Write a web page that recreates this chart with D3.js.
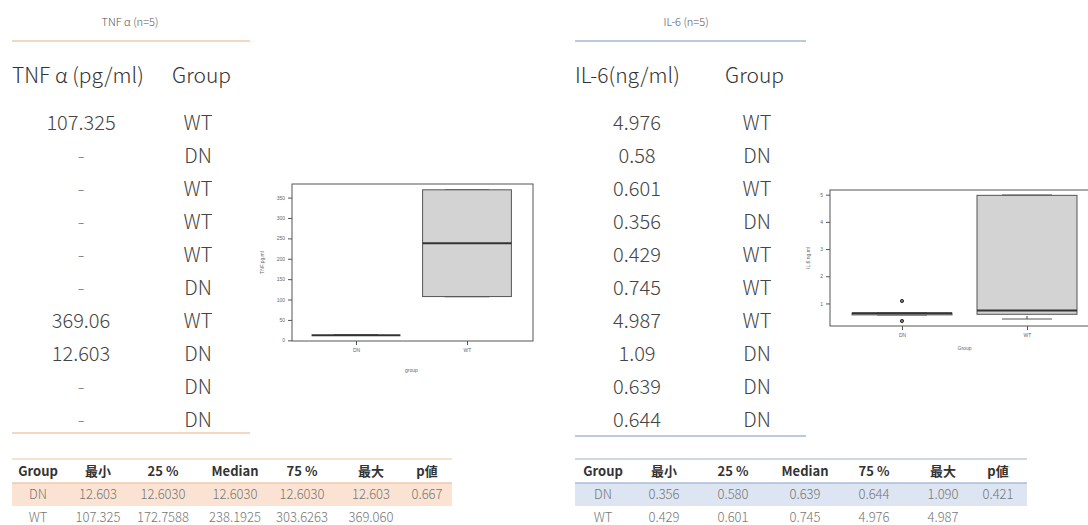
<!DOCTYPE html>
<html>
<head>
<meta charset="utf-8">
<script src="https://cdn.jsdelivr.net/npm/d3@7"></script>
<style>
  body { margin: 0; background: #fff; }
  svg { display: block; font-family: "Noto Sans CJK JP", "Noto Sans", sans-serif; }
  .axis text { font-family: "Liberation Sans", sans-serif; font-size: 5px; fill: #666; }
  .axis path, .axis line { stroke: #555; }
</style>
</head>
<body>
<div id="chart-area"></div>
<script>
// raw rows as listed on the slide
const tnfValues = [107.325, null, null, null, null, null, 369.06, 12.603, null, null];
const tnfGroups = ["WT", "DN", "WT", "WT", "WT", "DN", "WT", "DN", "DN", "DN"];
const il6Values = [4.976, 0.58, 0.601, 0.356, 0.429, 0.745, 4.987, 1.09, 0.639, 0.644];
const il6Groups = ["WT", "DN", "WT", "DN", "WT", "WT", "WT", "DN", "DN", "DN"];

const groupOrder = ["DN", "WT"];

// summary tables
const statCols = ["Group", "最小", "25 %", "Median", "75 %", "最大", "p値"];
const tnfStatDN = ["DN", "12.603", "12.6030", "12.6030", "12.6030", "12.603", "0.667"];
const tnfStatWT = ["WT", "107.325", "172.7588", "238.1925", "303.6263", "369.060", ""];
const il6StatDN = ["DN", "0.356", "0.580", "0.639", "0.644", "1.090", "0.421"];
const il6StatWT = ["WT", "0.429", "0.601", "0.745", "4.976", "4.987", ""];

const tnfYTicks = [0, 50, 100, 150, 200, 250, 300, 350];
const il6YTicks = [1, 2, 3, 4, 5];

let svg = d3.select("#chart-area")
  .append("svg")
  .attr("width", 1088)
  .attr("height", 525);

svg.append("rect").attr("width", 1088).attr("height", 525).attr("fill", "#fff");

// R style five number summary
function fivenum(vals) {
  let x = vals.slice().sort(d3.ascending);
  let n = x.length;
  let n4 = Math.floor((n + 3) / 2) / 2;
  let d = [1, n4, (n + 1) / 2, n + 1 - n4, n];
  return d.map(function(k) {
    return 0.5 * (x[Math.floor(k) - 1] + x[Math.ceil(k) - 1]);
  });
}

function boxStats(values, groups, g) {
  let vals = values.filter(function(v, i) { return v != null && groups[i] === g; });
  let f = fivenum(vals);
  let iqr = f[3] - f[1];
  let inside = vals.filter(function(v) { return v >= f[1] - 1.5 * iqr && v <= f[3] + 1.5 * iqr; });
  return {
    group: g,
    lo: d3.min(inside), q1: f[1], med: f[2], q3: f[3], hi: d3.max(inside),
    out: vals.filter(function(v) { return inside.indexOf(v) < 0; })
  };
}

function drawPanel(p) {
  let g = svg.append("g");

  // title + rule
  g.append("text")
    .attr("x", p.titleX).attr("y", 26)
    .attr("text-anchor", "middle")
    .attr("font-size", 11).attr("font-weight", 300).attr("fill", "#555")
    .text(p.title);
  g.append("line")
    .attr("x1", p.left).attr("x2", p.right).attr("y1", 41).attr("y2", 41)
    .attr("stroke", p.lineColor).attr("stroke-width", 2);

  // header
  g.append("text")
    .attr("x", p.left).attr("y", 83)
    .attr("font-size", 21).attr("font-weight", 300).attr("fill", "#333")
    .text(p.header);
  g.append("text")
    .attr("x", p.groupHeadX).attr("y", 83)
    .attr("font-size", 21).attr("font-weight", 300).attr("fill", "#333")
    .text("Group");

  let rowY = d3.scalePoint().domain(d3.range(p.values.length)).range([123, 420]);

  g.selectAll(".val")
    .data(p.values)
    .enter().append("text")
    .attr("x", p.valX)
    .attr("y", function(d, i) { return rowY(i); })
    .attr("dy", "0.35em")
    .attr("text-anchor", "middle")
    .attr("font-size", 20).attr("font-weight", 300)
    .attr("fill", function(d) { return d == null ? "#888" : "#444"; })
    .text(function(d) { return d == null ? "-" : String(d); });

  g.selectAll(".grp")
    .data(p.groups)
    .enter().append("text")
    .attr("x", p.grpX)
    .attr("y", function(d, i) { return rowY(i); })
    .attr("dy", "0.35em")
    .attr("text-anchor", "middle")
    .attr("font-size", 20).attr("font-weight", 300)
    .attr("fill", "#444")
    .text(function(d) { return d; });

  g.append("line")
    .attr("x1", p.left).attr("x2", p.right).attr("y1", p.bottomRule).attr("y2", p.bottomRule)
    .attr("stroke", p.lineColor).attr("stroke-width", 2);

  // boxplot
  let b = p.box;
  let x = d3.scaleLinear().domain([1, 2]).range(b.xs);
  let ext = d3.extent(p.values.filter(function(v) { return v != null; }));
  let pad = (ext[1] - ext[0]) * 0.04;
  let y = d3.scaleLinear().domain([ext[0] - pad, ext[1] + pad]).range([b.bottom, b.top]);
  let unit = x(2) - x(1);

  let bg = g.append("g");
  bg.append("rect")
    .attr("x", b.left).attr("y", b.top)
    .attr("width", b.right - b.left).attr("height", b.bottom - b.top)
    .attr("fill", "#fff").attr("stroke", "#555").attr("stroke-width", 1);

  let stats = groupOrder.map(function(gr) { return boxStats(p.values, p.groups, gr); });

  stats.forEach(function(s, i) {
    let cx = x(i + 1);
    // whiskers
    bg.append("line")
      .attr("x1", cx).attr("x2", cx).attr("y1", y(s.lo)).attr("y2", y(s.q1))
      .attr("stroke", "#444").attr("stroke-dasharray", "3,2");
    bg.append("line")
      .attr("x1", cx).attr("x2", cx).attr("y1", y(s.q3)).attr("y2", y(s.hi))
      .attr("stroke", "#444").attr("stroke-dasharray", "3,2");
    [s.lo, s.hi].forEach(function(v) {
      bg.append("line")
        .attr("x1", cx - unit * 0.2).attr("x2", cx + unit * 0.2)
        .attr("y1", y(v)).attr("y2", y(v))
        .attr("stroke", "#555").attr("stroke-width", 1.2);
    });
    bg.append("rect")
      .attr("x", cx - unit * 0.4).attr("width", unit * 0.8)
      .attr("y", y(s.q3)).attr("height", Math.max(0, y(s.q1) - y(s.q3)))
      .attr("fill", "#d3d3d3").attr("stroke", "#555").attr("stroke-width", 1);
    bg.append("line")
      .attr("x1", cx - unit * 0.4).attr("x2", cx + unit * 0.4)
      .attr("y1", y(s.med)).attr("y2", y(s.med))
      .attr("stroke", "#333").attr("stroke-width", 2);
    bg.selectAll(null)
      .data(s.out)
      .enter().append("circle")
      .attr("cx", cx).attr("cy", function(d) { return y(d); })
      .attr("r", 1.6)
      .attr("fill", "#777").attr("stroke", "#333").attr("stroke-width", 1);
  });

  let yAxis = d3.axisLeft(y).tickValues(p.yTicks).tickFormat(d3.format("d"))
    .tickSize(4).tickSizeOuter(0);
  let yg = bg.append("g").attr("class", "axis")
    .attr("transform", "translate(" + b.left + ",0)")
    .call(yAxis);
  yg.select(".domain").remove();

  let xAxis = d3.axisBottom(x).tickValues([1, 2])
    .tickFormat(function(d) { return groupOrder[d - 1]; })
    .tickSize(4).tickPadding(3);
  let xg = bg.append("g").attr("class", "axis")
    .attr("transform", "translate(0," + b.bottom + ")")
    .call(xAxis);
  xg.select(".domain").remove();

  bg.append("text")
    .attr("x", (b.xs[0] + b.xs[1]) / 2).attr("y", b.xLabY)
    .attr("text-anchor", "middle")
    .attr("font-family", "Liberation Sans, sans-serif")
    .attr("font-size", 5).attr("fill", "#666")
    .text(b.xLab);
  bg.append("text")
    .attr("transform", "translate(" + b.yLabX + "," + (b.top + b.bottom) / 2 + ") rotate(-90)")
    .attr("text-anchor", "middle")
    .attr("font-family", "Liberation Sans, sans-serif")
    .attr("font-size", 5).attr("fill", "#666")
    .text(b.yLab);

  // summary table
  let t = p.table;
  g.append("line")
    .attr("x1", t.left).attr("x2", t.right).attr("y1", 459).attr("y2", 459)
    .attr("stroke", p.lineColor).attr("stroke-width", 1.5);
  g.append("rect")
    .attr("x", t.left).attr("y", 483).attr("width", t.right - t.left).attr("height", 23)
    .attr("fill", p.fillColor);
  g.append("line")
    .attr("x1", t.left).attr("x2", t.right).attr("y1", 483).attr("y2", 483)
    .attr("stroke", p.headLineColor).attr("stroke-width", 1.5);

  g.selectAll(".th")
    .data(statCols)
    .enter().append("text")
    .attr("x", function(d, i) { return t.cols[i]; })
    .attr("y", 471).attr("dy", "0.35em")
    .attr("text-anchor", "middle")
    .attr("font-size", 13).attr("font-weight", "bold").attr("fill", "#333")
    .text(function(d) { return d; });

  [[p.statDN, 494.5], [p.statWT, 517]].forEach(function(r) {
    g.selectAll(null)
      .data(r[0])
      .enter().append("text")
      .attr("x", function(d, i) { return t.cols[i]; })
      .attr("y", r[1]).attr("dy", "0.35em")
      .attr("text-anchor", "middle")
      .attr("font-size", 13).attr("font-weight", 300).attr("fill", "#777")
      .text(function(d) { return d; });
  });
}

drawPanel({
  title: "TNF α (n=5)", titleX: 130,
  header: "TNF α (pg/ml)", groupHeadX: 172,
  left: 12, right: 250, bottomRule: 433,
  valX: 81, grpX: 198,
  lineColor: "#f3d7c2", headLineColor: "#f0c9ad", fillColor: "#fbe3d3",
  values: tnfValues, groups: tnfGroups, yTicks: tnfYTicks,
  box: { left: 292, right: 533, top: 184, bottom: 341, xs: [356, 467],
         xLab: "group", xLabY: 372, yLab: "TNF.pg.ml", yLabX: 264 },
  table: { left: 12, right: 452, cols: [38, 98, 163, 235, 302, 371, 427] },
  statDN: tnfStatDN, statWT: tnfStatWT
});

drawPanel({
  title: "IL-6 (n=5)", titleX: 686,
  header: "IL-6(ng/ml)", groupHeadX: 725,
  left: 575, right: 806, bottomRule: 436,
  valX: 637, grpX: 757,
  lineColor: "#bccbdb", headLineColor: "#a9bdd6", fillColor: "#dde4f2",
  values: il6Values, groups: il6Groups, yTicks: il6YTicks,
  box: { left: 830, right: 1095, top: 190, bottom: 326, xs: [902, 1027],
         xLab: "Group", xLabY: 350, yLab: "IL.6.ng.ml", yLabX: 810 },
  table: { left: 575, right: 1027, cols: [603, 664, 733, 805, 874, 943, 998] },
  statDN: il6StatDN, statWT: il6StatWT
});
</script>
</body>
</html>
